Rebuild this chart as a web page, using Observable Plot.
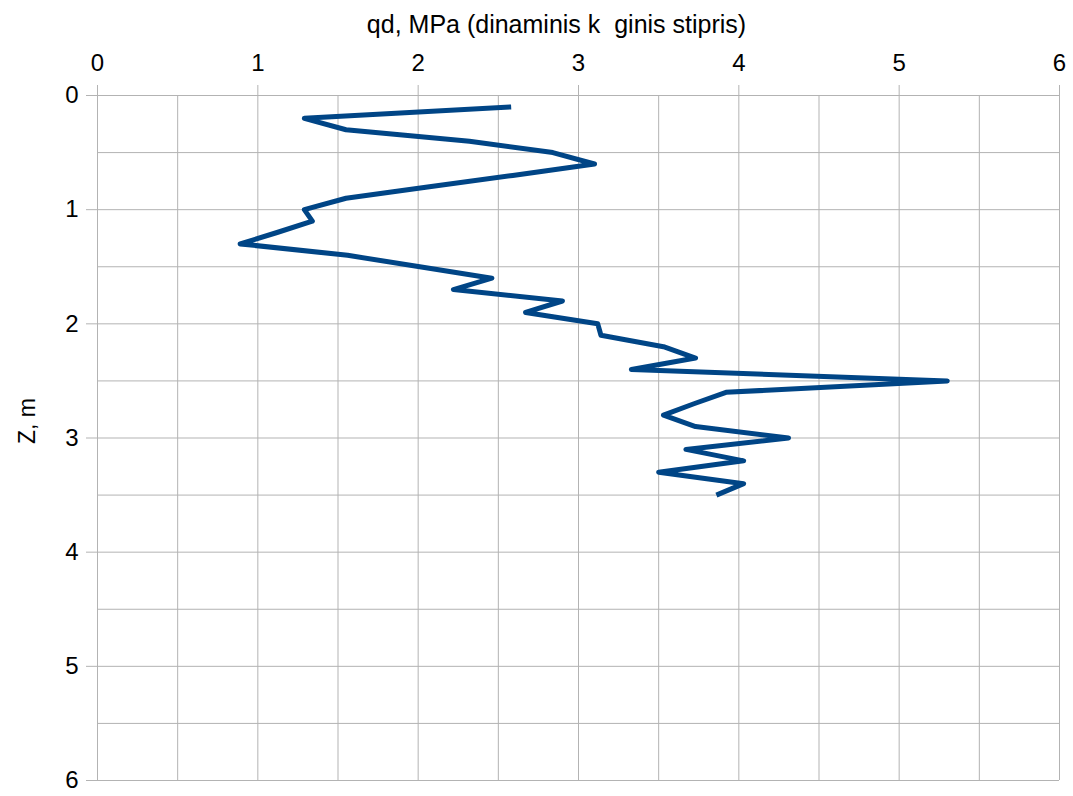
<!DOCTYPE html>
<html>
<head>
<meta charset="utf-8">
<script src="https://cdn.jsdelivr.net/npm/d3@7"></script>
<script src="https://cdn.jsdelivr.net/npm/@observablehq/plot@0.6"></script>
<style>
  html, body { margin: 0; padding: 0; background: #fff; }
  svg text { white-space: pre; }
</style>
</head>
<body>
<div id="chart"></div>
<script>
const depth = [0.1,0.2,0.3,0.4,0.5,0.6,0.7,0.8,0.9,1.0,1.1,1.2,1.3,1.4,1.5,1.6,1.7,1.8,1.9,2.0,2.1,2.2,2.3,2.4,2.5,2.6,2.7,2.8,2.9,3.0,3.1,3.2,3.3,3.4,3.5];
const qd = [2.58,1.29,1.55,2.32,2.84,3.10,2.59,2.07,1.55,1.29,1.34,1.12,0.89,1.56,2.01,2.46,2.22,2.90,2.67,3.12,3.14,3.53,3.73,3.33,5.30,3.92,3.72,3.53,3.73,4.31,3.67,4.03,3.50,4.03,3.86];
const majorTicks = [0,1,2,3,4,5,6];
const gridLines = [0,0.5,1,1.5,2,2.5,3,3.5,4,4.5,5,5.5,6];
const xTitle = "qd, MPa (dinaminis k  ginis stipris)";
const yTitle = "Z, m";

const data = depth.map((z, i) => ({z, q: qd[i]}));
const grid = "#b3b3b3";
const font = "'Liberation Sans', Arial, sans-serif";

const chart = Plot.plot({
  width: 1073,
  height: 796,
  marginLeft: 97,
  marginRight: 14,
  marginTop: 95,
  marginBottom: 16,
  style: {fontFamily: font, background: "#fff", color: "#000"},
  x: {domain: [0, 6]},
  y: {domain: [0, 6], reverse: true},
  marks: [
    Plot.ruleX(gridLines, {x: d => d, stroke: grid, strokeWidth: 1, strokeOpacity: 1}),
    Plot.ruleY(gridLines, {y: d => d, stroke: grid, strokeWidth: 1, strokeOpacity: 1}),
    Plot.axisX({anchor: "top", ticks: majorTicks, tickFormat: d => String(d), tickSize: 11, tickPadding: 14, fontSize: 24, stroke: grid, strokeOpacity: 1, label: null, fill: "#000"}),
    Plot.axisY({anchor: "left", ticks: majorTicks, tickFormat: d => String(d), tickSize: 11, tickPadding: 8, fontSize: 24, stroke: grid, strokeOpacity: 1, label: null, fill: "#000"}),
    Plot.line(data, {x: "q", y: "z", stroke: "#004586", strokeWidth: 5, strokeLinejoin: "round", strokeLinecap: "butt"}),
    Plot.text([xTitle], {frameAnchor: "top", dx: -22, dy: -71, text: d => d, fontSize: 25, fill: "#000", lineAnchor: "middle", textAnchor: "middle"}),
    Plot.text([yTitle], {frameAnchor: "left", dx: -70, dy: -17, rotate: -90, text: d => d, fontSize: 23, fill: "#000", lineAnchor: "middle", textAnchor: "middle"})
  ]
});
document.getElementById("chart").appendChild(chart);
</script>
</body>
</html>
